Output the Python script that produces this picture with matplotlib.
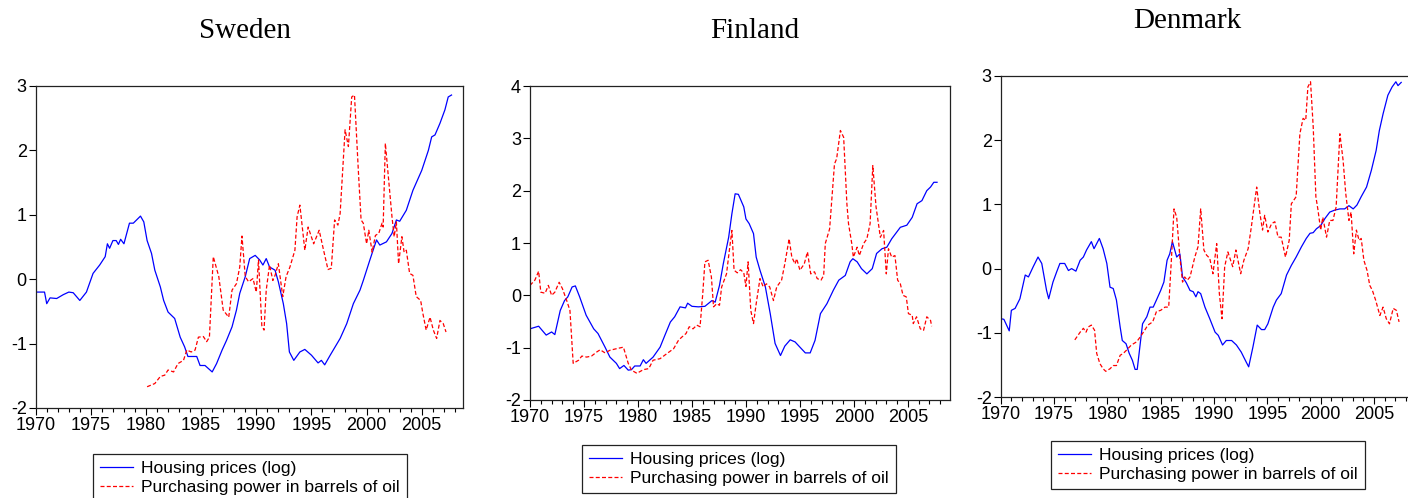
import matplotlib
matplotlib.use("Agg")
import matplotlib.pyplot as plt
from matplotlib.ticker import MultipleLocator
from matplotlib.lines import Line2D

plt.rcParams['font.family'] = ['Liberation Sans', 'DejaVu Sans']
plt.rcParams['axes.unicode_minus'] = False

# ---------------- data ----------------
swe_house_t = [1970.0, 1970.8, 1971.0, 1971.3, 1971.9, 1972.5, 1973.0, 1973.4, 1974.0, 1974.6, 1975.2, 1975.8,
               1976.3, 1976.5, 1976.7, 1977.0, 1977.3, 1977.5, 1977.7, 1978.0, 1978.5, 1978.85, 1979.5, 1979.8,
               1980.1, 1980.5, 1980.8, 1981.3, 1981.6, 1982.0, 1982.6, 1983.1, 1983.5, 1983.8, 1984.3, 1984.6,
               1984.9, 1985.35, 1986.0, 1986.4, 1986.9, 1987.3, 1987.8, 1988.2, 1988.5, 1989.0, 1989.4, 1989.9,
               1990.3, 1990.6, 1990.9, 1991.2, 1991.7, 1992.0, 1992.45, 1992.75, 1993.0, 1993.4, 1993.95, 1994.4,
               1995.0, 1995.6, 1995.9, 1996.2, 1996.7, 1997.6, 1998.2, 1998.8, 1999.4, 1999.7, 2000.3, 2000.9,
               2001.2, 2001.8, 2002.3, 2002.7, 2003.0, 2003.6, 2004.2, 2005.0, 2005.6, 2005.9, 2006.2, 2006.65,
               2007.1, 2007.4, 2007.7]
swe_house_v = [-0.20, -0.20, -0.38, -0.29, -0.30, -0.24, -0.20, -0.21, -0.33, -0.20, 0.09, 0.22,
               0.35, 0.55, 0.48, 0.60, 0.60, 0.54, 0.62, 0.55, 0.87, 0.87, 0.98, 0.89,
               0.60, 0.40, 0.14, -0.12, -0.33, -0.51, -0.61, -0.90, -1.05, -1.20, -1.20, -1.20,
               -1.34, -1.34, -1.44, -1.31, -1.10, -0.95, -0.74, -0.48, -0.22, 0.04, 0.32, 0.37,
               0.30, 0.22, 0.32, 0.19, 0.14, -0.04, -0.38, -0.69, -1.13, -1.26, -1.13, -1.09,
               -1.18, -1.30, -1.26, -1.33, -1.18, -0.92, -0.69, -0.38, -0.17, -0.02, 0.30, 0.61,
               0.53, 0.58, 0.71, 0.92, 0.90, 1.07, 1.38, 1.69, 2.00, 2.21, 2.24, 2.42,
               2.63, 2.83, 2.86]

swe_oil_t = [1980.1, 1980.8, 1981.3, 1981.7, 1982.0, 1982.5, 1982.9, 1983.4, 1983.7, 1984.1, 1984.45, 1984.75,
             1985.2, 1985.5, 1985.75, 1986.1, 1986.6, 1987.0, 1987.5, 1987.8, 1988.2, 1988.5, 1988.7, 1989.0,
             1989.3, 1989.7, 1990.0, 1990.2, 1990.5, 1990.7, 1990.9, 1991.2, 1991.5, 1991.7, 1992.0, 1992.4,
             1992.7, 1993.05, 1993.5, 1993.7, 1993.95, 1994.4, 1994.7, 1995.2, 1995.7, 1996.1, 1996.5, 1996.8,
             1997.1, 1997.4, 1997.6, 1998.05, 1998.35, 1998.65, 1998.9, 1999.25, 1999.5, 1999.7, 2000.0, 2000.2,
             2000.5, 2000.8, 2001.1, 2001.4, 2001.5, 2001.7, 2002.0, 2002.3, 2002.5, 2002.7, 2002.9, 2003.2,
             2003.4, 2003.6, 2003.9, 2004.2, 2004.5, 2004.9, 2005.1, 2005.4, 2005.75, 2006.05, 2006.35, 2006.65,
             2006.95, 2007.2]
swe_oil_v = [-1.67, -1.62, -1.51, -1.49, -1.41, -1.44, -1.31, -1.26, -1.10, -1.13, -1.10, -0.90,
             -0.89, -0.97, -0.90, 0.35, 0.04, -0.48, -0.59, -0.17, -0.07, 0.19, 0.67, 0.04,
             -0.04, 0.01, -0.20, 0.30, -0.72, -0.79, -0.17, 0.22, -0.02, 0.06, 0.24, -0.27,
             0.04, 0.19, 0.45, 0.97, 1.15, 0.45, 0.81, 0.55, 0.76, 0.45, 0.15, 0.17,
             0.92, 0.84, 1.02, 2.32, 2.06, 2.83, 2.86, 1.69, 0.92, 0.87, 0.55, 0.76,
             0.42, 0.68, 0.71, 0.87, 0.81, 2.11, 1.54, 0.97, 0.66, 0.89, 0.24, 0.66,
             0.42, 0.45, 0.09, 0.06, -0.27, -0.33, -0.53, -0.79, -0.59, -0.79, -0.92, -0.64,
             -0.69, -0.82]

fin_house_t = [1970.0, 1970.8, 1971.5, 1972.0, 1972.3, 1972.8, 1973.2, 1973.5, 1973.9, 1974.2, 1974.6, 1975.2,
               1975.9, 1976.3, 1976.95, 1977.4, 1978.0, 1978.3, 1978.7, 1979.1, 1979.4, 1979.7, 1980.2, 1980.5,
               1980.75, 1981.4, 1982.05, 1982.5, 1983.0, 1983.4, 1983.9, 1984.4, 1984.6, 1985.0, 1985.6, 1986.2,
               1986.85, 1987.15, 1987.55, 1987.9, 1988.4, 1988.7, 1989.0, 1989.3, 1989.8, 1990.0, 1990.3, 1990.7,
               1990.95, 1991.3, 1991.8, 1992.25, 1992.7, 1993.2, 1993.6, 1994.1, 1994.55, 1995.0, 1995.5, 1995.95,
               1996.4, 1996.9, 1997.5, 1998.1, 1998.6, 1999.2, 1999.65, 1999.9, 2000.3, 2000.7, 2001.2, 2001.7,
               2002.1, 2002.6, 2003.05, 2003.5, 2004.3, 2004.9, 2005.4, 2005.85, 2006.3, 2006.75, 2007.1, 2007.4,
               2007.7]
fin_house_v = [-0.64, -0.59, -0.76, -0.70, -0.75, -0.29, -0.10, -0.03, 0.16, 0.18, -0.03, -0.38,
               -0.64, -0.73, -0.99, -1.18, -1.30, -1.40, -1.34, -1.43, -1.42, -1.35, -1.35, -1.23,
               -1.30, -1.18, -0.99, -0.76, -0.51, -0.41, -0.22, -0.24, -0.15, -0.21, -0.22, -0.21,
               -0.10, -0.13, 0.19, 0.60, 1.11, 1.56, 1.94, 1.93, 1.69, 1.46, 1.37, 1.18,
               0.73, 0.48, 0.16, -0.35, -0.92, -1.15, -0.97, -0.85, -0.89, -0.99, -1.10, -1.10,
               -0.86, -0.35, -0.16, 0.10, 0.29, 0.38, 0.64, 0.70, 0.64, 0.51, 0.41, 0.51,
               0.80, 0.89, 0.92, 1.08, 1.30, 1.34, 1.49, 1.75, 1.81, 2.00, 2.07, 2.16,
               2.16]

fin_oil_t = [1970.0, 1970.45, 1970.8, 1971.0, 1971.4, 1971.7, 1972.0, 1972.3, 1972.7, 1973.0, 1973.4, 1973.7,
             1974.0, 1974.5, 1974.8, 1975.25, 1975.7, 1976.2, 1976.5, 1976.95, 1977.4, 1978.0, 1978.65, 1979.1,
             1979.4, 1979.9, 1980.5, 1981.0, 1981.4, 1982.05, 1982.7, 1983.3, 1983.75, 1984.05, 1984.45, 1984.75,
             1985.1, 1985.45, 1985.75, 1986.0, 1986.2, 1986.5, 1986.8, 1987.0, 1987.3, 1987.55, 1987.75, 1988.2,
             1988.5, 1988.7, 1988.9, 1989.2, 1989.5, 1989.8, 1990.0, 1990.2, 1990.45, 1990.7, 1990.95, 1991.3,
             1991.6, 1991.9, 1992.2, 1992.55, 1992.85, 1993.3, 1993.6, 1994.0, 1994.25, 1994.55, 1994.7, 1995.0,
             1995.4, 1995.7, 1996.0, 1996.35, 1996.6, 1996.95, 1997.2, 1997.35, 1997.75, 1998.2, 1998.4, 1998.75,
             1999.05, 1999.35, 1999.5, 1999.8, 1999.95, 2000.3, 2000.5, 2000.9, 2001.2, 2001.5, 2001.75, 2002.05,
             2002.45, 2002.75, 2003.0, 2003.2, 2003.5, 2003.8, 2004.05, 2004.3, 2004.55, 2004.85, 2005.05, 2005.4,
             2005.5, 2005.8, 2006.15, 2006.45, 2006.75, 2007.1, 2007.2]
fin_oil_v = [0.19, 0.29, 0.46, 0.06, 0.04, 0.19, 0.00, 0.06, 0.25, 0.13, -0.10, -0.29,
             -1.30, -1.24, -1.16, -1.18, -1.16, -1.08, -1.04, -1.10, -1.05, -1.02, -0.99, -1.30,
             -1.43, -1.49, -1.42, -1.40, -1.24, -1.21, -1.11, -1.02, -0.86, -0.80, -0.73, -0.60,
             -0.64, -0.57, -0.60, 0.03, 0.64, 0.67, 0.35, -0.22, -0.16, -0.19, 0.16, 0.41,
             0.92, 1.24, 0.48, 0.43, 0.49, 0.43, 0.17, 0.64, -0.29, -0.54, -0.16, 0.32,
             0.16, 0.22, 0.16, -0.10, 0.16, 0.29, 0.60, 1.08, 0.73, 0.60, 0.70, 0.48,
             0.60, 0.83, 0.41, 0.45, 0.32, 0.29, 0.38, 0.99, 1.27, 2.51, 2.61, 3.15,
             3.02, 1.75, 1.37, 0.99, 0.73, 0.92, 0.76, 0.99, 1.08, 1.37, 2.48, 1.69,
             1.11, 1.24, 0.41, 0.89, 0.73, 0.76, 0.29, 0.22, 0.00, -0.03, -0.35, -0.38,
             -0.54, -0.41, -0.64, -0.67, -0.41, -0.48, -0.59]

den_house_t = [1970.0, 1970.3, 1970.8, 1971.0, 1971.35, 1971.8, 1972.3, 1972.6, 1973.05, 1973.5, 1973.85, 1974.3,
               1974.5, 1974.9, 1975.25, 1975.55, 1976.0, 1976.35, 1976.65, 1977.05, 1977.45, 1977.75, 1978.05, 1978.5,
               1978.75, 1979.25, 1979.6, 1979.95, 1980.25, 1980.55, 1980.85, 1981.2, 1981.4, 1981.75, 1982.05, 1982.35,
               1982.6, 1982.8, 1983.3, 1983.7, 1984.0, 1984.3, 1984.6, 1985.0, 1985.3, 1985.6, 1985.85, 1986.1,
               1986.5, 1986.8, 1987.05, 1987.4, 1987.75, 1988.05, 1988.3, 1988.5, 1988.75, 1989.15, 1989.6, 1990.1,
               1990.4, 1990.8, 1991.15, 1991.65, 1992.1, 1992.55, 1993.0, 1993.25, 1993.65, 1994.05, 1994.45, 1994.75,
               1995.05, 1995.55, 1995.85, 1996.3, 1996.8, 1997.25, 1997.7, 1998.2, 1998.65, 1999.0, 1999.3, 1999.6,
               2000.0, 2000.4, 2000.85, 2001.3, 2001.8, 2002.25, 2002.65, 2003.05, 2003.4, 2003.8, 2004.3, 2004.75,
               2005.2, 2005.5, 2005.85, 2006.3, 2006.7, 2007.05, 2007.25, 2007.55]
den_house_v = [-0.78, -0.79, -0.97, -0.65, -0.62, -0.47, -0.10, -0.13, 0.03, 0.18, 0.08, -0.34,
               -0.47, -0.21, -0.05, 0.08, 0.08, -0.03, 0.00, -0.04, 0.13, 0.18, 0.29, 0.42,
               0.31, 0.47, 0.31, 0.08, -0.29, -0.31, -0.49, -0.91, -1.12, -1.17, -1.32, -1.43,
               -1.57, -1.57, -0.86, -0.75, -0.60, -0.60, -0.49, -0.34, -0.21, 0.13, 0.23, 0.42,
               0.18, 0.23, -0.13, -0.22, -0.34, -0.36, -0.44, -0.36, -0.39, -0.60, -0.78, -0.99,
               -1.04, -1.19, -1.12, -1.12, -1.19, -1.30, -1.45, -1.53, -1.22, -0.88, -0.95, -0.95,
               -0.86, -0.60, -0.49, -0.39, -0.10, 0.05, 0.18, 0.34, 0.47, 0.55, 0.56, 0.62,
               0.67, 0.78, 0.88, 0.91, 0.93, 0.93, 0.98, 0.93, 0.99, 1.12, 1.27, 1.53,
               1.84, 2.15, 2.41, 2.70, 2.83, 2.91, 2.85, 2.90]

den_oil_t = [1976.95, 1977.45, 1977.75, 1978.0, 1978.2, 1978.5, 1978.8, 1979.0, 1979.3, 1979.6, 1979.85, 1980.25,
             1980.55, 1980.85, 1981.2, 1981.5, 1981.8, 1982.25, 1982.75, 1983.1, 1983.5, 1983.8, 1984.25, 1984.6,
             1985.0, 1985.4, 1985.75, 1986.0, 1986.25, 1986.5, 1986.8, 1987.05, 1987.25, 1987.5, 1987.75, 1988.2,
             1988.5, 1988.75, 1989.05, 1989.3, 1989.6, 1989.9, 1990.25, 1990.5, 1990.75, 1991.0, 1991.3, 1991.75,
             1992.05, 1992.5, 1992.8, 1993.2, 1993.5, 1994.0, 1994.3, 1994.55, 1994.75, 1995.05, 1995.4, 1995.7,
             1996.0, 1996.3, 1996.7, 1997.05, 1997.25, 1997.7, 1998.05, 1998.35, 1998.6, 1998.8, 1999.05, 1999.3,
             1999.55, 1999.75, 2000.0, 2000.2, 2000.55, 2000.85, 2001.15, 2001.45, 2001.8, 2002.1, 2002.35, 2002.65,
             2002.85, 2003.1, 2003.35, 2003.6, 2003.8, 2004.05, 2004.35, 2004.6, 2004.85, 2005.15, 2005.55, 2005.85,
             2006.15, 2006.45, 2006.8, 2007.1, 2007.35]
den_oil_v = [-1.11, -0.99, -0.93, -0.99, -0.91, -0.88, -0.96, -1.32, -1.48, -1.56, -1.60, -1.56,
             -1.51, -1.51, -1.35, -1.32, -1.27, -1.19, -1.14, -1.06, -0.96, -0.88, -0.83, -0.67,
             -0.65, -0.60, -0.60, 0.13, 0.93, 0.80, 0.18, -0.21, -0.13, -0.18, -0.13, 0.18,
             0.34, 0.93, 0.29, 0.21, 0.16, -0.08, 0.39, -0.39, -0.78, 0.03, 0.26, 0.03,
             0.29, -0.08, 0.13, 0.31, 0.65, 1.27, 0.86, 0.60, 0.83, 0.57, 0.70, 0.73,
             0.49, 0.49, 0.18, 0.44, 1.01, 1.12, 2.10, 2.34, 2.31, 2.83, 2.91, 2.21,
             1.12, 0.91, 0.60, 0.80, 0.49, 0.75, 0.75, 0.96, 2.10, 1.69, 1.17, 0.75,
             0.88, 0.23, 0.60, 0.44, 0.47, 0.13, -0.03, -0.26, -0.34, -0.49, -0.73, -0.60,
             -0.78, -0.86, -0.62, -0.65, -0.83]

titles = ["Sweden", "Finland", "Denmark"]
house_label = "Housing prices (log)"
oil_label = "Purchasing power in barrels of oil"
x_ticks = [1970, 1975, 1980, 1985, 1990, 1995, 2000, 2005]

# ---------------- layout ----------------
W, H = 1408, 498
fig = plt.figure(figsize=(W / 100, H / 100), dpi=100)


def px_axes(left, top, right, bottom):
    return fig.add_axes([left / W, 1 - bottom / H, (right - left) / W, (bottom - top) / H])


panels = [
    dict(box=(35.7, 86, 463, 408), xlim=(1970, 2008.74), ylim=(-2, 3), yticks=[-2, -1, 0, 1, 2, 3],
         house=(swe_house_t, swe_house_v), oil=(swe_oil_t, swe_oil_v),
         title_xy=(245, 31), leg_xy=(93, 454)),
    dict(box=(530, 86, 950, 400), xlim=(1970, 2008.9), ylim=(-2, 4), yticks=[-2, -1, 0, 1, 2, 3, 4],
         house=(fin_house_t, fin_house_v), oil=(fin_oil_t, fin_oil_v),
         title_xy=(755, 31), leg_xy=(582, 445)),
    dict(box=(1000.7, 76, 1414, 397), xlim=(1970, 2008.75), ylim=(-2, 3), yticks=[-2, -1, 0, 1, 2, 3],
         house=(den_house_t, den_house_v), oil=(den_oil_t, den_oil_v),
         title_xy=(1187, 21), leg_xy=(1051, 441)),
]

dash = (0, (3.2, 1.8))
for title, p in zip(titles, panels):
    ax = px_axes(*p['box'])
    ax.plot(p['house'][0], p['house'][1], color='#0000ff', lw=0.9, solid_joinstyle='round')
    ax.plot(p['oil'][0], p['oil'][1], color='#ff0000', lw=0.9, linestyle=dash)
    ax.set_xlim(*p['xlim'])
    ax.set_ylim(*p['ylim'])
    ax.set_xticks(x_ticks)
    ax.xaxis.set_minor_locator(MultipleLocator(1))
    ax.set_yticks(p['yticks'])
    ax.tick_params(axis='both', which='major', direction='out', labelsize=13, colors='black',
                   length=5, width=0.8, top=False, right=False, pad=1.5)
    ax.tick_params(axis='x', which='minor', direction='out', length=3, width=0.8, top=False)
    for s in ax.spines.values():
        s.set_linewidth(0.9)
        s.set_color('#222222')
    fig.text(p['title_xy'][0] / W, 1 - p['title_xy'][1] / H, title, ha='center', va='center',
             fontsize=21, family=['Liberation Serif', 'DejaVu Serif'])
    handles = [Line2D([], [], color='#0000ff', lw=0.9),
               Line2D([], [], color='#ff0000', lw=0.9, linestyle=dash)]
    leg = ax.legend(handles, [house_label, oil_label], loc='upper left',
                    bbox_to_anchor=(p['leg_xy'][0] / W, 1 - p['leg_xy'][1] / H),
                    bbox_transform=fig.transFigure, borderaxespad=0, fontsize=12.6,
                    frameon=True, fancybox=False, framealpha=1, edgecolor='#222222',
                    handlelength=1.9, handletextpad=0.45, labelspacing=0.2, borderpad=0.4)
    leg.get_frame().set_linewidth(0.9)

fig.savefig("out.png", dpi=100)
